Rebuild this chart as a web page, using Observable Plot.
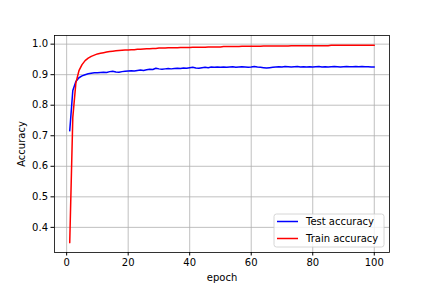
<!DOCTYPE html>
<html>
<head>
<meta charset="utf-8">
<script src="https://cdn.jsdelivr.net/npm/d3@7"></script>
<script src="https://cdn.jsdelivr.net/npm/@observablehq/plot@0.6"></script>
<style>
  html, body { margin: 0; padding: 0; background: white; }
  #chart { position: relative; width: 432px; height: 288px; }
</style>
</head>
<body>
<div id="chart"></div>
<script>
// Epoch numbers
const epochs = d3.range(1, 101);

// Test accuracy per epoch
const testAcc = [
  0.716, 0.848, 0.878, 0.890, 0.896, 0.900, 0.903, 0.905, 0.906, 0.906,
  0.907, 0.908, 0.907, 0.910, 0.911, 0.909, 0.908, 0.910, 0.911, 0.912,
  0.913, 0.912, 0.914, 0.915, 0.914, 0.916, 0.918, 0.917, 0.921, 0.919,
  0.918, 0.919, 0.920, 0.919, 0.920, 0.921, 0.920, 0.922, 0.921, 0.923,
  0.924, 0.922, 0.921, 0.923, 0.924, 0.923, 0.925, 0.924, 0.925, 0.924,
  0.925, 0.924, 0.925, 0.926, 0.924, 0.925, 0.926, 0.925, 0.924, 0.925,
  0.927, 0.925, 0.924, 0.923, 0.922, 0.923, 0.924, 0.925, 0.926, 0.925,
  0.927, 0.926, 0.925, 0.926, 0.927, 0.925, 0.926, 0.925, 0.926, 0.925,
  0.926, 0.927, 0.925, 0.926, 0.925, 0.926, 0.927, 0.926, 0.925, 0.926,
  0.927, 0.926, 0.926, 0.927, 0.926, 0.927, 0.926, 0.926, 0.925, 0.925
];

// Train accuracy per epoch
const trainAcc = [
  0.350, 0.760, 0.873, 0.913, 0.933, 0.946, 0.954, 0.960, 0.964, 0.968,
  0.970, 0.972, 0.974, 0.976, 0.977, 0.978, 0.979, 0.980, 0.981, 0.981,
  0.982, 0.982, 0.983, 0.983, 0.984, 0.985, 0.985, 0.986, 0.986, 0.987,
  0.987, 0.987, 0.988, 0.988, 0.988, 0.988, 0.989, 0.989, 0.989, 0.989,
  0.990, 0.990, 0.990, 0.990, 0.990, 0.991, 0.991, 0.991, 0.991, 0.991,
  0.992, 0.992, 0.992, 0.992, 0.992, 0.992, 0.993, 0.993, 0.993, 0.993,
  0.993, 0.993, 0.993, 0.994, 0.994, 0.994, 0.994, 0.994, 0.994, 0.994,
  0.994, 0.994, 0.995, 0.995, 0.995, 0.995, 0.995, 0.995, 0.995, 0.995,
  0.995, 0.995, 0.995, 0.995, 0.995, 0.996, 0.996, 0.996, 0.996, 0.996,
  0.996, 0.996, 0.996, 0.996, 0.996, 0.996, 0.996, 0.996, 0.996, 0.996
];

const seriesNames = ["Test accuracy", "Train accuracy"];
const seriesColors = ["blue", "red"];
const xTicks = [0, 20, 40, 60, 80, 100];
const yTicks = [0.4, 0.5, 0.6, 0.7, 0.8, 0.9, 1.0];

const data = [];
seriesNames.forEach((name, s) => {
  const vals = s === 0 ? testAcc : trainAcc;
  epochs.forEach((e, i) => data.push({ epoch: e, acc: vals[i], series: name }));
});

// matplotlib-style 5% autoscale margins
function pad(ext) { const r = ext[1] - ext[0]; return [ext[0] - 0.05 * r, ext[1] + 0.05 * r]; }
const xDomain = pad(d3.extent(epochs));
const yDomain = pad(d3.extent(data, d => d.acc));

const gridStyle = { stroke: "#b0b0b0", strokeOpacity: 1, strokeWidth: 0.8 };

const chart = Plot.plot({
  width: 432,
  height: 288,
  marginLeft: 54,
  marginRight: 43,
  marginTop: 35,
  marginBottom: 36,
  style: { fontFamily: "DejaVu Sans", fontSize: "10px", color: "black", background: "white" },
  x: { domain: xDomain },
  y: { domain: yDomain },
  color: { domain: seriesNames, range: seriesColors },
  marks: [
    Plot.gridX(xTicks, gridStyle),
    Plot.gridY(yTicks, gridStyle),
    Plot.line(data, { x: "epoch", y: "acc", z: "series", stroke: "series", strokeWidth: 1.5 }),
    Plot.frame({ stroke: "black", strokeWidth: 0.8 }),
    Plot.axisX(xTicks, { tickSize: 3.5, tickPadding: 3, tickFormat: d3.format("d"), label: "epoch", labelAnchor: "center", labelArrow: "none", labelOffset: 28, fontSize: 10 }),
    Plot.axisY(yTicks, { tickSize: 3.5, tickPadding: 3, tickFormat: d3.format(".1f"), label: "Accuracy", labelAnchor: "center", labelArrow: "none", labelOffset: 37, fontSize: 10 })
  ]
});

document.getElementById("chart").appendChild(chart);

// Legend (lower right, matplotlib style)
const svg = d3.select(chart);
const fr = { right: 432 - 43, bottom: 288 - 36 };
const lw = 110, lh = 33;
const lg = svg.append("g").attr("transform", `translate(${fr.right - 5 - lw},${fr.bottom - 5 - lh})`);
lg.append("rect").attr("width", lw).attr("height", lh).attr("rx", 2.5)
  .attr("fill", "white").attr("fill-opacity", 0.8).attr("stroke", "#cccccc").attr("stroke-width", 0.8);
seriesNames.forEach((name, i) => {
  const y = 7.5 + i * 17;
  lg.append("line").attr("x1", 3).attr("x2", 24).attr("y1", y).attr("y2", y)
    .attr("stroke", seriesColors[i]).attr("stroke-width", 1.5);
  lg.append("text").attr("x", 32).attr("y", y).attr("dy", "0.35em")
    .attr("text-anchor", "start")
    .attr("font-family", "DejaVu Sans").attr("font-size", 10).attr("fill", "black").text(name);
});
</script>
</body>
</html>
